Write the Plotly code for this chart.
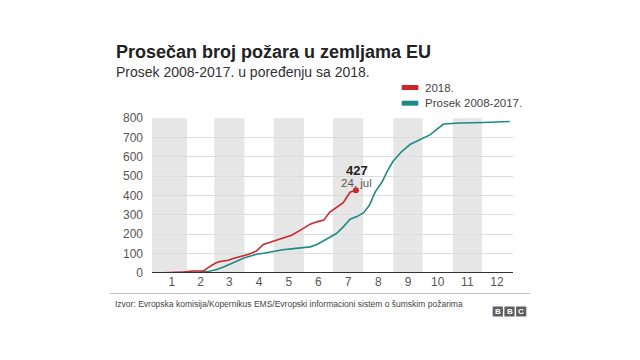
import plotly.graph_objects as go
import numpy as np

# ---------------- data ----------------
month_labels = ["1", "2", "3", "4", "5", "6", "7", "8", "9", "10", "11", "12"]
month_lengths = [31, 28, 31, 30, 31, 30, 31, 31, 30, 31, 30, 31]
y_ticks = [0, 100, 200, 300, 400, 500, 600, 700, 800]

# Average 2008-2017 (cumulative number of fires), x = day of year
avg_days = [1, 15, 28, 45, 54, 62, 69, 76, 83, 90, 96, 103, 110, 120, 130, 141,
            151, 158, 165, 172, 178, 185, 192, 199, 206, 213, 219, 225, 232, 237,
            243, 252, 261, 271, 281, 295, 312, 336, 363]
avg_values = [0, 1, 2, 5, 9, 18, 31, 48, 62, 77, 87, 97, 102, 111, 120, 126,
              130, 135, 147, 166, 183, 204, 238, 278, 291, 311, 351, 420, 471, 523,
              575, 627, 665, 691, 713, 769, 774, 777, 782]

# 2018 (cumulative), x = day of year
y2018_days = [1, 15, 28, 38, 48, 57, 62, 67, 74, 79, 86, 95, 103, 110, 120, 131,
              139, 148, 158, 165, 172, 178, 185, 192, 199, 205]
y2018_values = [0, 2, 5, 10, 10, 40, 54, 61, 66, 75, 83, 97, 114, 147, 164, 181,
                195, 221, 252, 264, 273, 313, 339, 363, 417, 427]

last_label_value = "427"
last_label_date = "24. jul"

title = "Prosečan broj požara u zemljama EU"
subtitle = "Prosek 2008-2017. u poređenju sa 2018."
legend_labels = ["2018.", "Prosek 2008-2017."]
source = "Izvor: Evropska komisija/Kopernikus EMS/Evropski informacioni sistem o šumskim požarima"

# ---------------- style ----------------
RED = "#cc262d"
TEAL = "#1c8a85"
BAND = "#e6e6e6"
GRID = "#dcdcdc"
GRID_ON_BAND = "#efefef"
FONT = "Liberation Sans, Arial, sans-serif"

W, H = 640, 360
ML, MR, MT, MB = 152, 127, 118, 87
PW, PH = W - ML - MR, H - MT - MB
X_MIN, X_MAX = -4.5, 366.4


def px(xp):
    return (xp - ML) / PW


def py(yp):
    return (H - MB - yp) / PH


bounds = np.concatenate([[0], np.cumsum(month_lengths)]) + 0.5
mids = (bounds[:-1] + bounds[1:]) / 2

fig = go.Figure()

fig.add_trace(go.Scatter(x=avg_days, y=avg_values, mode="lines",
                         line=dict(color=TEAL, width=1.6), showlegend=False,
                         hoverinfo="skip"))
fig.add_trace(go.Scatter(x=y2018_days, y=y2018_values, mode="lines",
                         line=dict(color=RED, width=1.6), showlegend=False,
                         hoverinfo="skip"))
fig.add_trace(go.Scatter(x=[y2018_days[-1]], y=[y2018_values[-1]], mode="markers",
                         marker=dict(color=RED, size=6), showlegend=False,
                         hoverinfo="skip"))

shapes = []
# grey month bands (odd months) with light gridlines crossing them
for i in range(0, 12, 2):
    x0 = bounds[i] if i > 0 else X_MIN
    x1 = bounds[i + 1]
    shapes.append(dict(type="rect", xref="x", yref="y", x0=x0, x1=x1,
                       y0=0, y1=800, fillcolor=BAND, line=dict(width=0),
                       layer="below"))
    for v in y_ticks[1:]:
        shapes.append(dict(type="line", xref="x", yref="y", x0=x0, x1=x1, y0=v, y1=v,
                           line=dict(color=GRID_ON_BAND, width=1), layer="below"))
# baseline
shapes.append(dict(type="line", xref="paper", yref="y", x0=0, x1=1, y0=0, y1=0,
                   line=dict(color="#333333", width=2)))
# separator line above source
shapes.append(dict(type="line", xref="paper", yref="paper", x0=px(110), x1=px(530),
                   y0=py(293.5), y1=py(293.5), line=dict(color="#bdbdbd", width=1)))
# legend boxes
shapes.append(dict(type="rect", xref="paper", yref="paper", x0=px(401.7), x1=px(418.3),
                   y0=py(90), y1=py(85), fillcolor=RED, line=dict(width=0)))
shapes.append(dict(type="rect", xref="paper", yref="paper", x0=px(401.7), x1=px(418.3),
                   y0=py(105.7), y1=py(100.7), fillcolor=TEAL, line=dict(width=0)))
# BBC logo boxes
for x0 in [492.7, 504.4, 516.1]:
    shapes.append(dict(type="rect", xref="paper", yref="paper", x0=px(x0), x1=px(x0 + 10.2),
                       y0=py(316.5), y1=py(306.5), fillcolor="#5e5e5e", line=dict(width=0)))

annotations = [
    dict(text=f"<b>{title}</b>", xref="paper", yref="paper", x=px(114), y=py(51.5),
         xanchor="left", yanchor="middle", showarrow=False,
         font=dict(family=FONT, size=18, color="#222222")),
    dict(text=subtitle, xref="paper", yref="paper", x=px(114), y=py(72),
         xanchor="left", yanchor="middle", showarrow=False,
         font=dict(family=FONT, size=14, color="#333333")),
    dict(text=legend_labels[0], xref="paper", yref="paper", x=px(423), y=py(87.5),
         xanchor="left", yanchor="middle", showarrow=False,
         font=dict(family=FONT, size=11.5, color="#444444")),
    dict(text=legend_labels[1], xref="paper", yref="paper", x=px(423), y=py(103.3),
         xanchor="left", yanchor="middle", showarrow=False,
         font=dict(family=FONT, size=11.5, color="#444444")),
    dict(text=f"<b>{last_label_value}</b>", xref="x", yref="y", x=y2018_days[-1],
         y=y2018_values[-1], yshift=20, xshift=1, xanchor="center", yanchor="middle",
         showarrow=False, borderpad=0,
         font=dict(family=FONT, size=13, color="#222222")),
    dict(text=last_label_date, xref="x", yref="y", x=y2018_days[-1],
         y=y2018_values[-1], yshift=7.5, xshift=1, xanchor="center", yanchor="middle",
         showarrow=False, borderpad=0,
         font=dict(family=FONT, size=11.5, color="#555555")),
    dict(text=source, xref="paper", yref="paper", x=px(113), y=py(303.5),
         xanchor="left", yanchor="middle", showarrow=False,
         font=dict(family=FONT, size=8.5, color="#444444")),
]
for x0, letter in zip([492.7, 504.4, 516.1], ["B", "B", "C"]):
    annotations.append(dict(text=f"<b>{letter}</b>", xref="paper", yref="paper",
                            x=px(x0 + 5.1), y=py(311.5), xanchor="center",
                            yanchor="middle", showarrow=False,
                            font=dict(family=FONT, size=8, color="#ffffff")))

fig.update_layout(
    width=W, height=H,
    margin=dict(l=ML, r=MR, t=MT, b=MB, pad=0),
    paper_bgcolor="white", plot_bgcolor="white",
    font=dict(family=FONT, color="#555555"),
    shapes=shapes, annotations=annotations,
    xaxis=dict(range=[X_MIN, X_MAX], tickvals=list(mids), ticktext=month_labels,
               showgrid=False, zeroline=False, showline=False, ticks="",
               tickfont=dict(family=FONT, size=12, color="#555555"), fixedrange=True),
    yaxis=dict(range=[0, 800], tickvals=y_ticks,
               showgrid=True, gridcolor=GRID, gridwidth=1, zeroline=False,
               showline=False, ticks="", ticklabelstandoff=8,
               tickfont=dict(family=FONT, size=12, color="#555555"), fixedrange=True),
)

fig.write_html("out.html", config={"displayModeBar": False},
               post_script="document.body.style.margin='0';")
